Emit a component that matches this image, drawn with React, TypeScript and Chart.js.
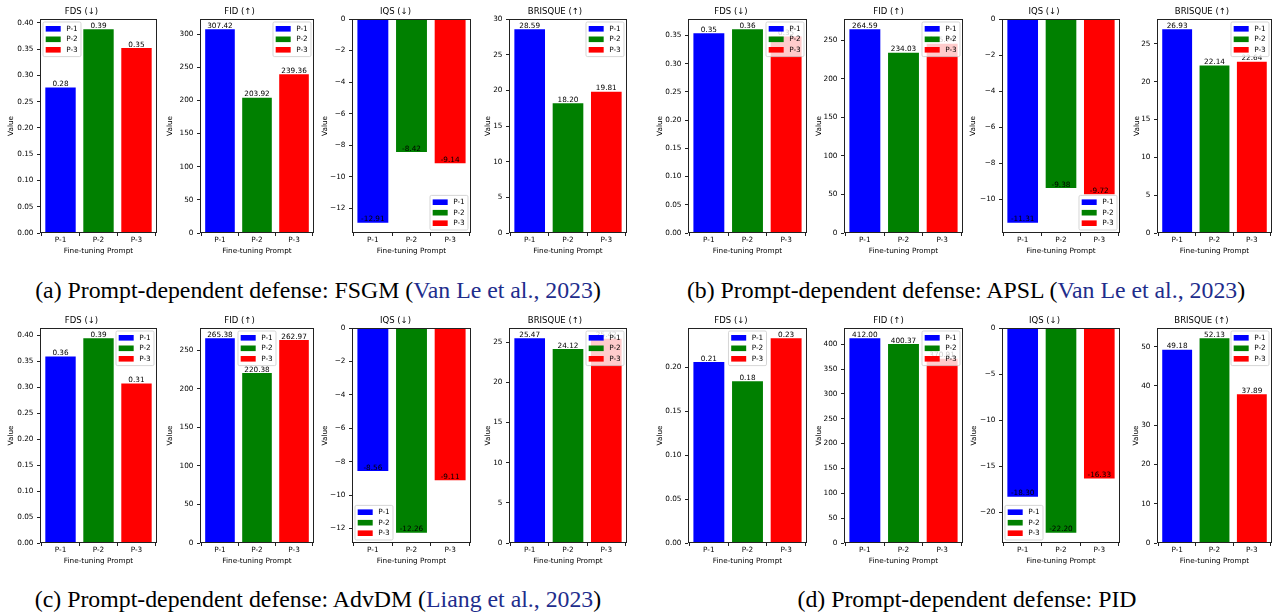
import React, { useEffect, useRef } from "react";
import { Chart, registerables } from "chart.js";

Chart.register(...registerables);

const FONT = '"DejaVu Sans", sans-serif';
const SMALL = 7.3;
const TITLE_SIZE = 8.5;

// Categories and bar colours shared by every panel
const prompts = ["P-1", "P-2", "P-3"];
const promptColors = ["#0000ff", "#008000", "#ff0000"];

// (a) FSGM
const fsgmFDS = [0.277, 0.388, 0.352];
const fsgmFID = [307.42, 203.92, 239.36];
const fsgmIQS = [-12.91, -8.42, -9.14];
const fsgmBRISQUE = [28.59, 18.2, 19.81];

// (b) APSL
const apslFDS = [0.354, 0.361, 0.348];
const apslFID = [264.59, 234.03, 245.74];
const apslIQS = [-11.31, -9.38, -9.72];
const apslBRISQUE = [26.93, 22.14, 22.64];

// (c) AdvDM
const advdmFDS = [0.359, 0.394, 0.307];
const advdmFID = [265.38, 220.38, 262.97];
const advdmIQS = [-8.56, -12.26, -9.11];
const advdmBRISQUE = [25.47, 24.12, 25.42];

// (d) PID
const pidFDS = [0.206, 0.184, 0.233];
const pidFID = [412.0, 400.37, 370.91];
const pidIQS = [-18.3, -22.2, -16.33];
const pidBRISQUE = [49.18, 52.13, 37.89];

// Y tick values per panel
const fdsTicksA = [0, 0.05, 0.1, 0.15, 0.2, 0.25, 0.3, 0.35, 0.4];
const fdsTicksB = [0, 0.05, 0.1, 0.15, 0.2, 0.25, 0.3, 0.35];
const fdsTicksC = [0, 0.05, 0.1, 0.15, 0.2, 0.25, 0.3, 0.35, 0.4];
const fdsTicksD = [0, 0.05, 0.1, 0.15, 0.2];
const fidTicksA = [0, 50, 100, 150, 200, 250, 300];
const fidTicksB = [0, 50, 100, 150, 200, 250];
const fidTicksC = [0, 50, 100, 150, 200, 250];
const fidTicksD = [0, 50, 100, 150, 200, 250, 300, 350, 400];
const iqsTicksA = [0, -2, -4, -6, -8, -10, -12];
const iqsTicksB = [0, -2, -4, -6, -8, -10];
const iqsTicksC = [0, -2, -4, -6, -8, -10, -12];
const iqsTicksD = [0, -5, -10, -15, -20];
const brisqueTicksA = [0, 5, 10, 15, 20, 25, 30];
const brisqueTicksB = [0, 5, 10, 15, 20, 25];
const brisqueTicksC = [0, 5, 10, 15, 20, 25];
const brisqueTicksD = [0, 10, 20, 30, 40, 50];

const metricTitles = ["FDS (\u2193)", "FID (\u2191)", "IQS (\u2193)", "BRISQUE (\u2191)"];
const metricDecimals = [2, 0, 0, 0];

type LegendLoc = "ul" | "uc" | "ur" | "ll" | "lr";

interface PanelSpec {
  title: string;
  values: number[];
  ticks: number[];
  decimals: number;
  legend: LegendLoc;
  left: number;
  right: number;
  top: number;
  bottom: number;
  valueGap: number;
}

// Axes boxes (page pixels) for the two columns of sub-figures and the two rows
const leftAxes = [
  [40, 157],
  [200, 314],
  [352, 471],
  [509, 627],
];
const rightAxes = [
  [688, 807],
  [844, 963],
  [1002, 1120],
  [1157, 1272],
];
const rows = [
  [19, 233],
  [328, 543],
];

function fmtTick(v: number, decimals: number) {
  const s = Math.abs(v).toFixed(decimals);
  return v < 0 ? "\u2212" + s : s;
}

const overlayPlugin = {
  id: "panelOverlay",
  afterDraw(chart: any, _args: any, opts: any) {
    const { ctx, chartArea: a } = chart;
    const yScale = chart.scales.y;
    const ds = chart.data.datasets[0];
    ctx.save();

    // axes frame
    ctx.strokeStyle = "#222";
    ctx.lineWidth = 1;
    const l = Math.round(a.left);
    const t = Math.round(a.top);
    const r = Math.round(a.right);
    const b = Math.round(a.bottom);
    ctx.strokeRect(l + 0.5, t + 0.5, r - l - 1, b - t - 1);

    // value labels
    ctx.font = `${SMALL}px ${FONT}`;
    ctx.fillStyle = "#000";
    ctx.textAlign = "center";
    ctx.textBaseline = "alphabetic";
    chart.getDatasetMeta(0).data.forEach((bar: any, i: number) => {
      const v = ds.data[i].y as number;
      ctx.fillText(v.toFixed(2), bar.x, yScale.getPixelForValue(v) - 1.4);
    });

    // legend box
    const loc: LegendLoc = opts.loc;
    const padL = 2.7;
    const handleW = 15;
    const handleH = 5.6;
    const gap = 5.5;
    const padR = 3.3;
    const pitch = 10.5;
    const padV = 6.8;
    const textW = Math.max(...prompts.map((s) => ctx.measureText(s).width));
    const w = padL + handleW + gap + textW + padR;
    const h = padV * 2 + pitch * (prompts.length - 1);
    const m = 3;
    const x =
      loc[1] === "l" ? a.left + m : loc[1] === "r" ? a.right - m - w : (a.left + a.right) / 2 - w / 2;
    const y = loc[0] === "u" ? a.top + m : a.bottom - m - h;
    const rad = 1.5;
    ctx.beginPath();
    ctx.moveTo(x + rad, y);
    ctx.lineTo(x + w - rad, y);
    ctx.quadraticCurveTo(x + w, y, x + w, y + rad);
    ctx.lineTo(x + w, y + h - rad);
    ctx.quadraticCurveTo(x + w, y + h, x + w - rad, y + h);
    ctx.lineTo(x + rad, y + h);
    ctx.quadraticCurveTo(x, y + h, x, y + h - rad);
    ctx.lineTo(x, y + rad);
    ctx.quadraticCurveTo(x, y, x + rad, y);
    ctx.closePath();
    ctx.fillStyle = "rgba(255,255,255,0.8)";
    ctx.fill();
    ctx.strokeStyle = "rgba(204,204,204,0.8)";
    ctx.lineWidth = 1;
    ctx.stroke();

    ctx.textAlign = "left";
    ctx.textBaseline = "middle";
    prompts.forEach((label, i) => {
      const cy = y + padV + i * pitch;
      ctx.fillStyle = ds.backgroundColor[i];
      ctx.fillRect(x + padL, cy - handleH / 2, handleW, handleH);
      ctx.fillStyle = "#000";
      ctx.fillText(label, x + padL + handleW + gap, cy + 0.3);
    });

    ctx.restore();
  },
};

const TITLE_H = 13;
const X_AXIS_H = 23;
const PAD_R = 3;

function Panel({ spec }: { spec: PanelSpec }) {
  const ref = useRef<HTMLCanvasElement>(null);
  const yW = spec.valueGap + 5;
  const width = yW + (spec.right - spec.left) + PAD_R;
  const height = TITLE_H + (spec.bottom - spec.top) + X_AXIS_H;

  useEffect(() => {
    const maxV = Math.max(...spec.values);
    const minV = Math.min(...spec.values);
    const yMin = minV < 0 ? minV * 1.05 : 0;
    const yMax = maxV > 0 ? maxV * 1.05 : 0;
    const tickFont = { family: FONT, size: SMALL, lineHeight: "8px" };
    const labelFont = { family: FONT, size: SMALL, lineHeight: "10px" };
    const gridOpts = {
      display: true,
      drawOnChartArea: false,
      drawTicks: true,
      tickLength: 3,
      color: "#222",
      lineWidth: 1,
    };
    const chart = new Chart(ref.current as HTMLCanvasElement, {
      type: "bar",
      data: {
        datasets: [
          {
            data: spec.values.map((v, i) => ({ x: i, y: v })),
            backgroundColor: promptColors,
            borderWidth: 0,
            barPercentage: 0.8,
            categoryPercentage: 1,
          },
        ],
      },
      options: {
        animation: false,
        responsive: false,
        maintainAspectRatio: false,
        devicePixelRatio: 1,
        events: [],
        layout: { padding: { left: 0, right: PAD_R, top: 0, bottom: 0 } },
        plugins: {
          legend: { display: false },
          tooltip: { enabled: false },
          title: {
            display: true,
            text: spec.title,
            color: "#000",
            font: { family: FONT, size: TITLE_SIZE, lineHeight: "12px", weight: "normal" },
            padding: { top: 0, bottom: 1 },
          },
          panelOverlay: { loc: spec.legend },
        } as any,
        scales: {
          x: {
            type: "linear",
            min: -0.54,
            max: 2.54,
            offset: false,
            afterBuildTicks: (s: any) => {
              s.ticks = prompts.map((_, i) => ({ value: i }));
            },
            afterFit: (s: any) => {
              s.height = X_AXIS_H;
            },
            ticks: {
              callback: (v: any) => prompts[v as number],
              font: tickFont,
              color: "#000",
              padding: 0,
              autoSkip: false,
              maxRotation: 0,
            },
            grid: gridOpts,
            border: { display: false },
            title: { display: true, text: "Fine-tuning Prompt", font: labelFont, color: "#000", padding: 0 },
          },
          y: {
            type: "linear",
            min: yMin,
            max: yMax,
            afterBuildTicks: (s: any) => {
              s.ticks = spec.ticks.map((v) => ({ value: v }));
            },
            afterFit: (s: any) => {
              s.width = yW;
            },
            ticks: {
              callback: (v: any) => fmtTick(v as number, spec.decimals),
              font: tickFont,
              color: "#000",
              padding: 3.5,
              autoSkip: false,
            },
            grid: gridOpts,
            border: { display: false },
            title: { display: true, text: "Value", font: labelFont, color: "#000", padding: 0 },
          },
        },
      } as any,
      plugins: [overlayPlugin],
    });
    return () => chart.destroy();
  }, []);

  return (
    <canvas
      ref={ref}
      width={width}
      height={height}
      style={{
        position: "absolute",
        left: spec.left - yW,
        top: spec.top - TITLE_H,
        width,
        height,
      }}
    />
  );
}

function buildGroup(
  series: number[][],
  ticks: number[][],
  legends: LegendLoc[],
  axes: number[][],
  row: number[],
  gaps: number[]
): PanelSpec[] {
  return series.map((values, i) => ({
    title: metricTitles[i],
    values,
    ticks: ticks[i],
    decimals: metricDecimals[i],
    legend: legends[i],
    left: axes[i][0],
    right: axes[i][1],
    top: row[0],
    bottom: row[1],
    valueGap: gaps[i],
  }));
}

const panels: PanelSpec[] = [
  ...buildGroup(
    [fsgmFDS, fsgmFID, fsgmIQS, fsgmBRISQUE],
    [fdsTicksA, fidTicksA, iqsTicksA, brisqueTicksA],
    ["ul", "ur", "lr", "ur"],
    leftAxes,
    rows[0],
    [29, 30, 27, 21]
  ),
  ...buildGroup(
    [apslFDS, apslFID, apslIQS, apslBRISQUE],
    [fdsTicksB, fidTicksB, iqsTicksB, brisqueTicksB],
    ["ur", "ur", "lr", "ur"],
    rightAxes,
    rows[0],
    [28, 25, 29, 20]
  ),
  ...buildGroup(
    [advdmFDS, advdmFID, advdmIQS, advdmBRISQUE],
    [fdsTicksC, fidTicksC, iqsTicksC, brisqueTicksC],
    ["ur", "uc", "ll", "ur"],
    leftAxes,
    rows[1],
    [29, 30, 27, 21]
  ),
  ...buildGroup(
    [pidFDS, pidFID, pidIQS, pidBRISQUE],
    [fdsTicksD, fidTicksD, iqsTicksD, brisqueTicksD],
    ["uc", "ur", "ll", "ur"],
    rightAxes,
    rows[1],
    [28, 25, 28, 21]
  ),
];

const CITE = "rgb(30, 45, 140)";

const captions = [
  { cx: 318, top: 279, lead: "(a) Prompt-dependent defense: FSGM (", cite: "Van Le et al., 2023", tail: ")" },
  { cx: 966, top: 279, lead: "(b) Prompt-dependent defense: APSL (", cite: "Van Le et al., 2023", tail: ")" },
  { cx: 318, top: 588, lead: "(c) Prompt-dependent defense: AdvDM (", cite: "Liang et al., 2023", tail: ")" },
  { cx: 967, top: 588, lead: "(d) Prompt-dependent defense: PID", cite: "", tail: "" },
];

export default function App() {
  return (
    <div
      style={{
        position: "absolute",
        left: 0,
        top: 0,
        width: 1275,
        height: 616,
        background: "#fff",
        overflow: "hidden",
      }}
    >
      {panels.map((p, i) => (
        <Panel key={i} spec={p} />
      ))}
      {captions.map((c, i) => (
        <div
          key={"c" + i}
          style={{
            position: "absolute",
            left: c.cx,
            top: c.top,
            transform: "translateX(-50%)",
            whiteSpace: "nowrap",
            fontFamily: '"Liberation Serif", "Times New Roman", serif',
            fontSize: 23.8,
            lineHeight: "23.8px",
            color: "#000",
          }}
        >
          {c.lead}
          {c.cite && <span style={{ color: CITE }}>{c.cite}</span>}
          {c.tail}
        </div>
      ))}
    </div>
  );
}
